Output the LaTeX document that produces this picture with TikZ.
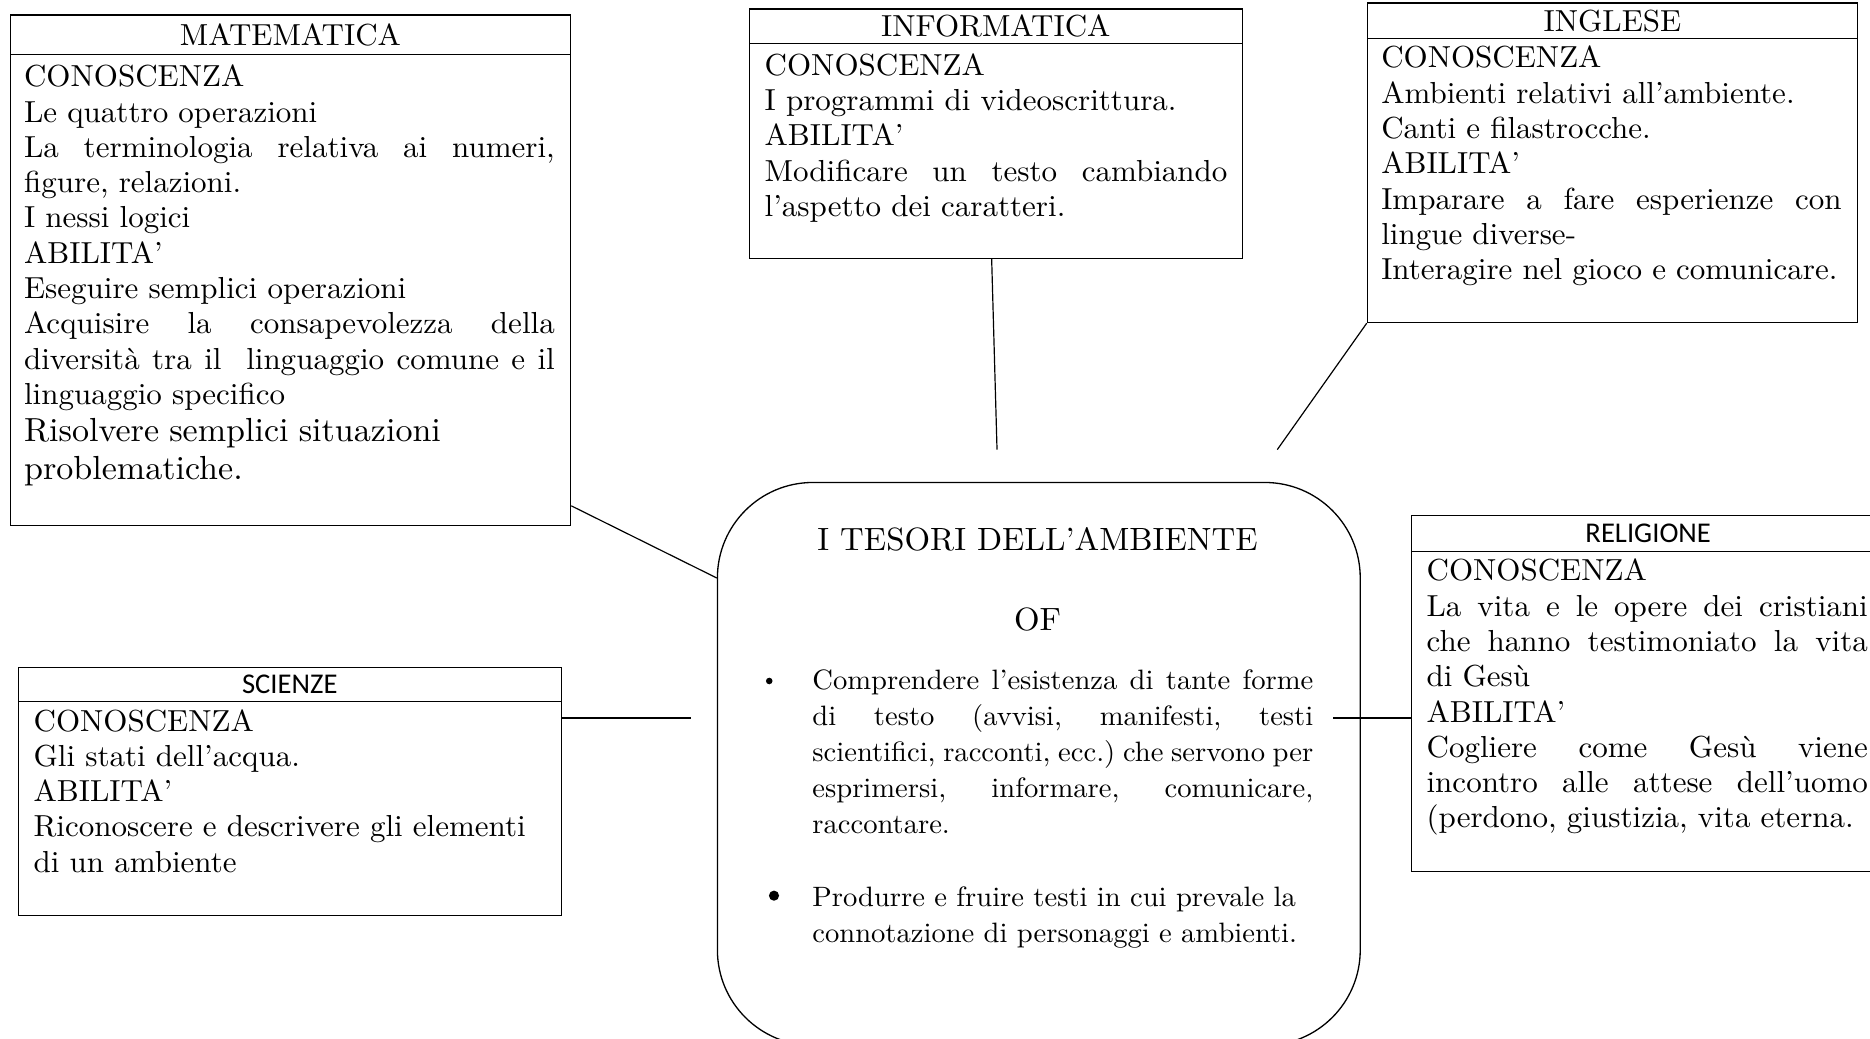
\documentclass[tikz,border=0pt]{standalone}
\usepackage{fontspec}
\setmainfont{lmroman10-regular.otf}[FakeStretch=1.02]
\newfontfamily\calibrifont{Carlito}
\usetikzlibrary{positioning}

% justified line: align=left fixes the word space, so reset it here
\newcommand{\fullline}[1]{\leavevmode\hbox to \hsize{\spaceskip=0pt\xspaceskip=0pt #1}}

\tikzset{
  subjbox/.style={draw, line width=1pt, inner sep=0pt, anchor=north west},
  subjhead/.style={draw, line width=1pt, inner sep=0pt, anchor=north west,
    font=\fontsize{25.5}{30}\selectfont},
  sanshead/.style={subjhead, font=\calibrifont\fontsize{24}{28}\selectfont},
  bodytext/.style={anchor=base west, inner sep=0pt, align=left,
    font=\fontsize{25.5}{29.6}\selectfont},
  bullettext/.style={bodytext, text width=420pt,
    font=\fontsize{23.5}{30.3}\selectfont},
  bulletdot/.style={circle, fill, inner sep=0pt},
  link/.style={line width=1pt},
}

\begin{document}
\frenchspacing
\begin{tikzpicture}[x=1pt, y=-1pt]
  \useasboundingbox (0,0) rectangle (1568,871);

  % Central box
  \node[draw, line width=1.1pt, rounded corners=80pt, anchor=north west,
    minimum width=539pt, minimum height=472pt] (cen) at (601,404) {};
  \node[font=\fontsize{27}{30}\selectfont] (ttl) at (870,452) {I TESORI DELL’AMBIENTE};
  \node[font=\fontsize{27}{30}\selectfont, below=41pt of ttl] (of) {OF};
  \node[bulletdot, minimum size=5.5pt] (dot1) at (645,571) {};
  \node[bullettext] (bul1) at (681,578) {%
    \fullline{Comprendere l’esistenza di tante forme}\\
    \fullline{di testo (avvisi, manifesti, testi}\\
    \fullline{scientifici, racconti, ecc.) che servono per}\\
    \fullline{esprimersi, informare, comunicare,}\\
    raccontare.};
  \node[bulletdot, minimum size=8.5pt] (dot2) at (649,751) {};
  \node[bullettext] (bul2) at (681,760) {%
    Produrre e fruire testi in cui prevale la\\
    connotazione di personaggi e ambienti.};

  % MATEMATICA
  \node[subjbox, minimum width=470pt, minimum height=428pt] (mat) at (8,12) {};
  \node[subjhead, minimum width=470pt, minimum height=33pt] (matH) at (mat.north west) {MATEMATICA};
  \node[bodytext, text width=445pt] (matT) at (20,72.7) {%
    CONOSCENZA\\
    Le quattro operazioni\\
    \fullline{La terminologia relativa ai numeri,}\\
    figure, relazioni.\\
    I nessi logici\\
    ABILITA’\\
    Eseguire semplici operazioni\\
    \fullline{Acquisire la consapevolezza della}\\
    \fullline{diversità tra il\ \ linguaggio comune e il}\\
    linguaggio specifico\\[1.5pt]
    {\fontsize{28}{32}\selectfont Risolvere semplici situazioni}\\[2.5pt]
    {\fontsize{28}{32}\selectfont problematiche.}};

  % INFORMATICA
  \node[subjbox, minimum width=413pt, minimum height=209pt] (info) at (628,7) {};
  \node[subjhead, minimum width=413pt, minimum height=29pt] (infoH) at (info.north west) {INFORMATICA};
  \node[bodytext, text width=388pt] (infoT) at (641,63) {%
    CONOSCENZA\\
    I programmi di videoscrittura.\\
    ABILITA’\\
    \fullline{Modificare un testo cambiando}\\
    l’aspetto dei caratteri.};

  % INGLESE
  \node[subjbox, minimum width=411pt, minimum height=268pt] (ing) at (1146,2) {};
  \node[subjhead, minimum width=411pt, minimum height=30pt] (ingH) at (ing.north west) {INGLESE};
  \node[bodytext, text width=386pt] (ingT) at (1158,57) {%
    CONOSCENZA\\
    Ambienti relativi all’ambiente.\\
    Canti e filastrocche.\\
    ABILITA’\\
    \fullline{Imparare a fare esperienze con}\\
    lingue diverse-\\
    Interagire nel gioco e comunicare.};

  % RELIGIONE
  \node[subjbox, minimum width=397pt, minimum height=298pt] (rel) at (1183,432) {};
  \node[sanshead, minimum width=397pt, minimum height=30pt] (relH) at (rel.north west) {RELIGIONE};
  \node[bodytext, text width=370pt] (relT) at (1196,487) {%
    CONOSCENZA\\
    \fullline{La vita e le opere dei cristiani}\\
    \fullline{che hanno testimoniato la vita}\\
    di Gesù\\
    ABILITA’\\
    \fullline{Cogliere come Gesù viene}\\
    \fullline{incontro alle attese dell’uomo}\\
    (perdono, giustizia, vita eterna.};

  % SCIENZE
  \node[subjbox, minimum width=455pt, minimum height=208pt] (sci) at (15,559) {};
  \node[sanshead, minimum width=455pt, minimum height=29pt] (sciH) at (sci.north west) {SCIENZE};
  \node[bodytext, text width=429pt] (sciT) at (28,613) {%
    CONOSCENZA\\
    Gli stati dell’acqua.\\
    ABILITA’\\
    Riconoscere e descrivere gli elementi\\
    di un ambiente};

  % Connectors
  \coordinate (infoend) at (836,377);
  \coordinate (ingend) at (1071,377);
  \coordinate (sciend) at (579,602);
  \coordinate (relstart) at (1118,602);
  \draw[link] (mat.-40) -- (cen.150);
  \draw[link] ([xshift=-3.5pt]info.south) -- (infoend);
  \draw[link] (ing.south west) -- (ingend);
  \draw[link] (sci.east |- sciend) -- (sciend);
  \draw[link] (relstart) -- (relstart -| rel.west);
\end{tikzpicture}
\end{document}
